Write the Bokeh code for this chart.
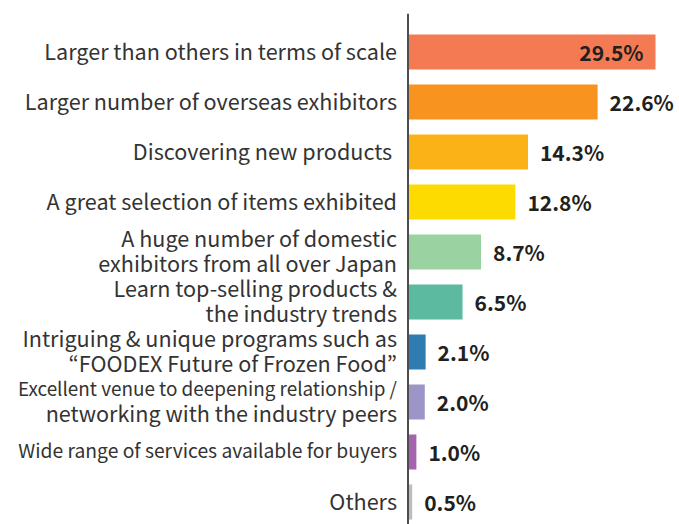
from bokeh.plotting import figure
from bokeh.models import ColumnDataSource, Range1d, Span
from bokeh.core.properties import value
from bokeh.embed import file_html
from bokeh.resources import INLINE

categories = [
    "Larger than others in terms of scale",
    "Larger number of overseas exhibitors",
    "Discovering new products ",
    "A great selection of items exhibited",
    "A huge number of domestic\nexhibitors from all over Japan",
    "Learn top-selling products &\nthe industry trends",
    "Intriguing & unique programs such as\n\u201cFOODEX Future of Frozen Food\u201d",
    "Excellent venue to deepening relationship /\nnetworking with the industry peers",
    "Wide range of services available for buyers",
    "Others",
]
values = [29.5, 22.6, 14.3, 12.8, 8.7, 6.5, 2.1, 2.0, 1.0, 0.5]
colors = ["#f47a53", "#f7931e", "#fbb217", "#fedb00", "#9ad2a2",
          "#5cbaa0", "#2f7db0", "#9b95c8", "#a562ae", "#bdbdbd"]

FONT = "Noto Sans CJK JP"
BASE_SIZE = 21.6
# lines that the original squeezes to fit the label column
SQUEEZED = {(7, 0): 18.9, (8, 0): 19.3}
LINE_GAP = 24.5
W, H = 679, 524
k = 8.39
zero_px = 407.5

pos = list(range(len(categories)))
labels = [f"{v:.1f}%" for v in values]

ly, lt, lo, ls = [], [], [], []
for i, cat in enumerate(categories):
    lines = cat.split("\n")
    n = len(lines)
    for j, line in enumerate(lines):
        ly.append(pos[i])
        lt.append(line)
        lo.append((j - (n - 1) / 2) * LINE_GAP - 2)
        ls.append(f"{SQUEEZED.get((i, j), BASE_SIZE)}px")

p = figure(width=W, height=H, output_backend="svg", toolbar_location=None,
           x_range=Range1d(-zero_px / k, (W - zero_px) / k),
           y_range=Range1d(9.45, -0.77),
           min_border_left=0, min_border_right=0, min_border_top=13, min_border_bottom=0)
p.axis.visible = False
p.grid.visible = False
p.outline_line_color = None
p.background_fill_color = "white"

src = ColumnDataSource(dict(y=pos, v=values, c=colors, lab=labels))
p.hbar(y="y", left=0, right="v", height=0.7, fill_color="c", line_color=None, source=src)

lsrc = ColumnDataSource(dict(y=ly, t=lt, o=lo, s=ls))
p.text(x=0, y="y", text="t", source=lsrc, x_offset=-11, y_offset="o", text_align="right",
       text_baseline="middle", text_font=value(FONT), text_font_size="s",
       text_color="#333333")

out_idx = [i for i in pos if i != 0]
in_idx = [0]
src_out = ColumnDataSource(dict(y=[pos[i] for i in out_idx], v=[values[i] for i in out_idx],
                                lab=[labels[i] for i in out_idx]))
src_in = ColumnDataSource(dict(y=[pos[i] for i in in_idx], v=[values[i] for i in in_idx],
                               lab=[labels[i] for i in in_idx]))
for s, off, al in ((src_out, 12, "left"), (src_in, -12, "right")):
    p.text(x="v", y="y", text="lab", source=s, x_offset=off, text_align=al,
           text_baseline="middle", text_font=value(FONT), text_font_size="21px",
           text_font_style="bold", text_color="#231f20")

p.add_layout(Span(location=0, dimension="height", line_color="#4d4d4d", line_width=2))

open("out.html", "w").write(file_html(p, INLINE))
